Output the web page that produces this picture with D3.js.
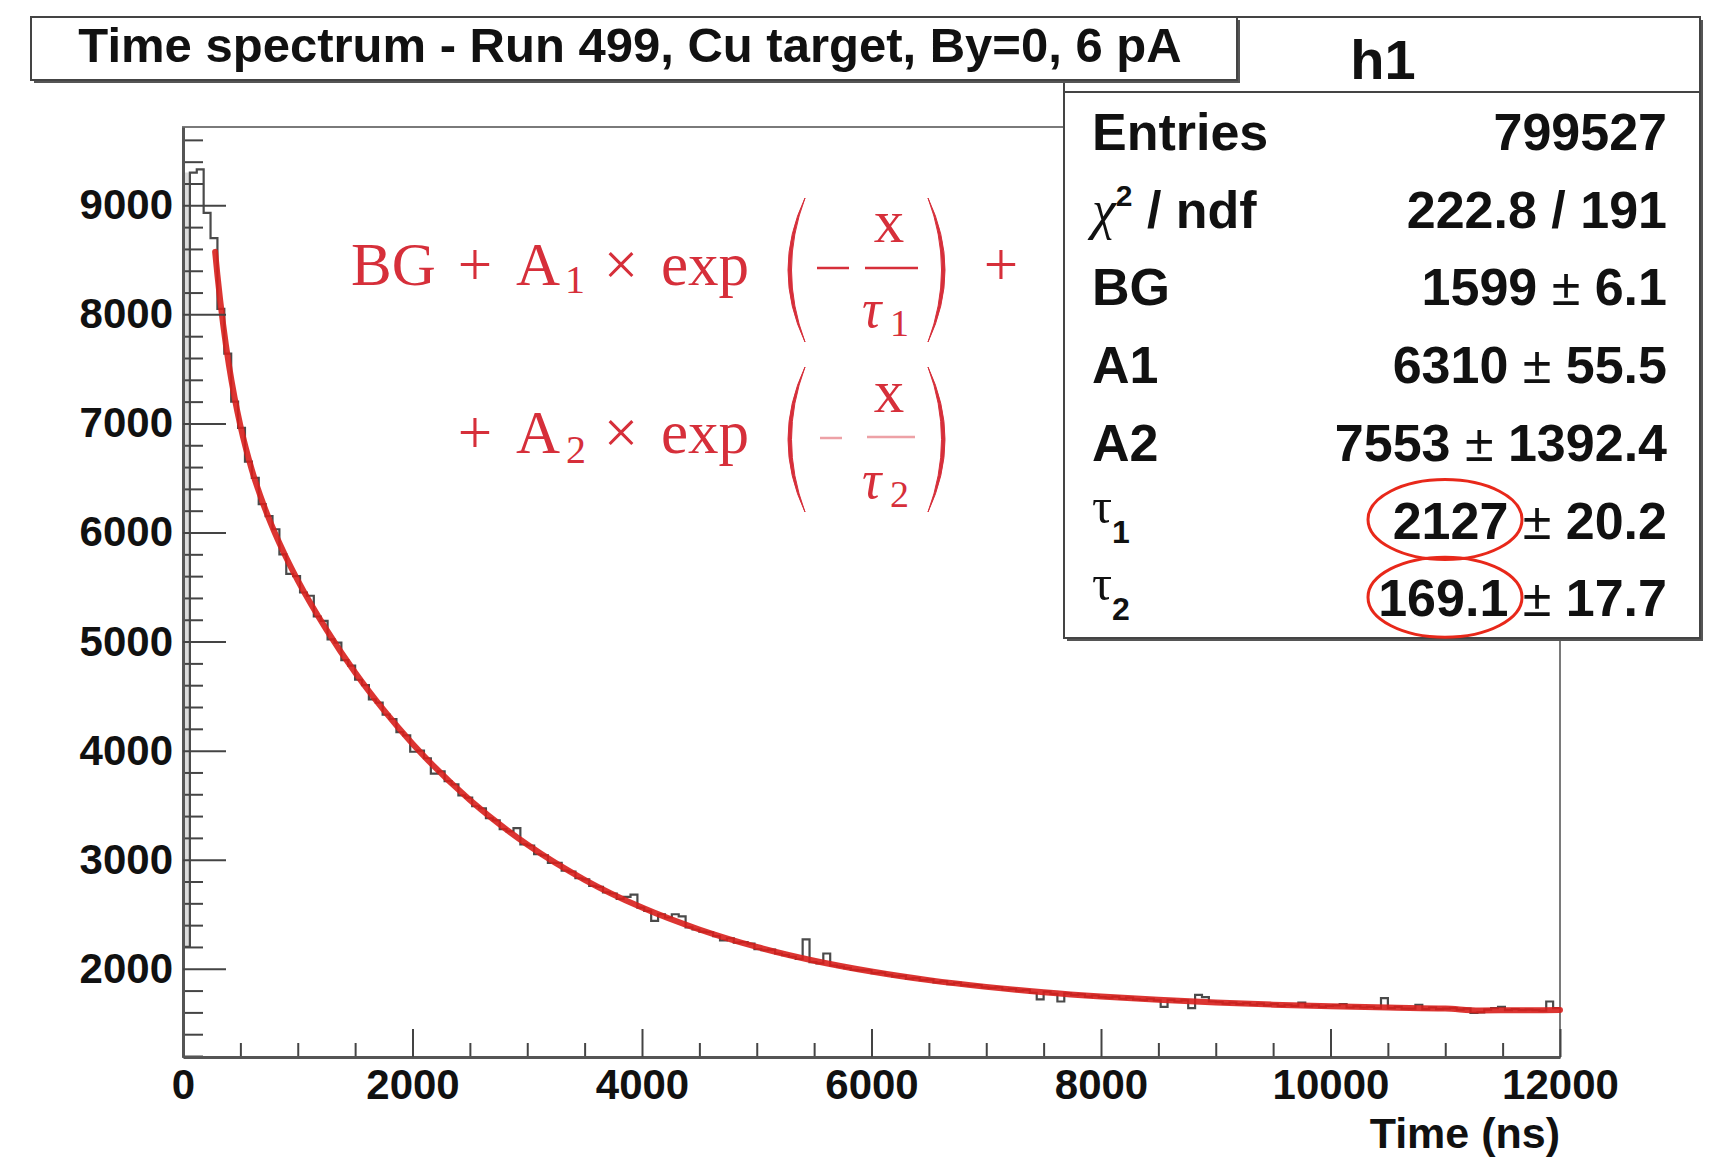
<!DOCTYPE html>
<html>
<head>
<meta charset="utf-8">
<script src="https://cdn.jsdelivr.net/npm/d3@7"></script>
<style>
html, body { margin: 0; padding: 0; background: #fff; }
svg { display: block; }
text { font-family: "Liberation Sans", Arial, Helvetica, sans-serif; }
</style>
</head>
<body>
<div id="chart"></div>
<script>
// ---- values ----
var binWidth = 60; // ns per bin, 200 bins from 0 to 12000
var counts = [
  2200, 9300, 9330, 8930, 8700, 8050, 7640, 7200, 6960, 6650,
  6500, 6260, 6150, 6030, 5800, 5620, 5600, 5450, 5420, 5230,
  5190, 5020, 4990, 4830, 4780, 4650, 4600, 4470, 4440, 4330,
  4290, 4170, 4140, 3990, 4000, 3930, 3790, 3810, 3720, 3690,
  3590, 3570, 3490, 3470, 3380, 3360, 3280, 3260, 3290, 3140,
  3130, 3050, 3040, 2970, 2970, 2900, 2890, 2830, 2820, 2760,
  2750, 2700, 2690, 2640, 2660, 2680, 2560, 2530, 2440, 2500,
  2470, 2500, 2480, 2380, 2360, 2340, 2335, 2300, 2260, 2280,
  2240, 2245, 2230, 2180, 2170, 2175, 2140, 2125, 2110, 2090,
  2270, 2060, 2050, 2140, 2030, 2020, 2005, 1990, 1985, 1985,
  1960, 1965, 1945, 1930, 1935, 1910, 1915, 1895, 1900, 1875,
  1885, 1860, 1870, 1850, 1845, 1850, 1830, 1825, 1830, 1810,
  1815, 1800, 1805, 1780, 1720, 1790, 1770, 1700, 1775, 1760,
  1765, 1745, 1755, 1740, 1735, 1745, 1725, 1735, 1720, 1715,
  1725, 1710, 1650, 1715, 1700, 1710, 1640, 1760, 1740, 1700,
  1695, 1680, 1690, 1675, 1685, 1670, 1680, 1665, 1675, 1660,
  1670, 1660, 1690, 1655, 1665, 1650, 1660, 1665, 1675, 1645,
  1655, 1645, 1650, 1640, 1730, 1640, 1650, 1635, 1635, 1670,
  1630, 1645, 1630, 1635, 1640, 1625, 1635, 1595, 1600, 1625,
  1640, 1650, 1620, 1630, 1620, 1625, 1620, 1615, 1700, 1640
];

// red fit curve, sampled along the drawn line
var fitTimes  = [280, 300, 350, 400, 450, 500, 600, 700, 800, 900, 1000, 1250, 1500, 1750, 2000,
                 2500, 3000, 3500, 4000, 4500, 5000, 5500, 6000, 6500, 7000, 7500, 8000, 8500,
                 9000, 9500, 10000, 10500, 11000, 11300, 11600, 12000];
var fitValues = [8573, 8360, 7905, 7536, 7234, 6980, 6575, 6260, 5998, 5769, 5562, 5110, 4716, 4371, 4063,
                 3547, 3139, 2816, 2561, 2360, 2200, 2074, 1975, 1896, 1834, 1785, 1746, 1715,
                 1691, 1671, 1656, 1644, 1635, 1618, 1620, 1621];

var xMajor = [0, 2000, 4000, 6000, 8000, 10000, 12000];
var yMajor = [2000, 3000, 4000, 5000, 6000, 7000, 8000, 9000];
var xRange = [0, 12000];
var yRange = [1191, 9718];

var titleText = "Time spectrum - Run 499, Cu target, By=0, 6 pA";
var histName = "h1";
var xTitle = "Time (ns)";

var statLabels = ["Entries", "chi2", "BG", "A1", "A2", "tau1", "tau2"];
var statValues = ["799527", "222.8 / 191", "1599 ± 6.1", "6310 ± 55.5", "7553 ± 1392.4", "2127 ± 20.2", "169.1 ± 17.7"];
var circledRows = [5, 6];

// ---- layout ----
var W = 1715, H = 1169;
var margin = {top: 127, right: 155, bottom: 112, left: 183};
var red = "#d62f3a";
var sans = '"Liberation Sans", Arial, Helvetica, sans-serif';
var serif = '"Liberation Serif", "Times New Roman", Times, serif';

var svg = d3.select("#chart").append("svg")
    .attr("width", W)
    .attr("height", H);

var x = d3.scaleLinear().domain(xRange).range([margin.left, W - margin.right]);
var y = d3.scaleLinear().domain(yRange).range([H - margin.bottom, margin.top]);

// frame
svg.append("rect")
    .attr("x", x(xRange[0])).attr("y", y(yRange[1]))
    .attr("width", x(xRange[1]) - x(xRange[0]))
    .attr("height", y(yRange[0]) - y(yRange[1]))
    .attr("fill", "none").attr("stroke", "#7a7a7a").attr("stroke-width", 2);

// histogram points (step)
var histPts = counts.map(function(c, i) { return {t: i * binWidth, v: c}; });
histPts.push({t: counts.length * binWidth, v: counts[counts.length - 1]});

// prompt band at the very start (first two bins)
svg.append("path")
    .datum(histPts.slice(1, 3))
    .attr("fill", "#dcdcdc")
    .attr("d", d3.area()
        .x(function(d) { return x(d.t - binWidth); })
        .y0(y(counts[0]))
        .y1(function(d) { return y(d.v); })
        .curve(d3.curveStepAfter));

svg.append("path")
    .datum(histPts)
    .attr("fill", "none")
    .attr("stroke", "#4a4a4a")
    .attr("stroke-width", 2.2)
    .attr("d", d3.line()
        .x(function(d) { return x(d.t); })
        .y(function(d) { return y(d.v); })
        .curve(d3.curveStepAfter));

// fit curve
var fitPts = fitTimes.map(function(t, i) { return {t: t, v: fitValues[i]}; });
svg.append("path")
    .datum(fitPts)
    .attr("fill", "none")
    .attr("stroke", "#d81f1c")
    .attr("stroke-opacity", 0.9)
    .attr("stroke-width", 6)
    .attr("stroke-linecap", "round")
    .attr("d", d3.line()
        .x(function(d) { return x(d.t); })
        .y(function(d) { return y(d.v); })
        .curve(d3.curveMonotoneX));

// axes
function styleAxis(g) {
    g.select(".domain").attr("stroke", "#555").attr("stroke-width", 3);
    g.selectAll(".tick line").attr("stroke", "#444").attr("stroke-width", 2);
    g.selectAll(".tick text")
        .attr("fill", "#111")
        .style("font-family", sans)
        .style("font-weight", "bold")
        .style("font-size", "42px");
}

var xMinor = d3.range(xRange[0], xRange[1] + 1, 500).filter(function(v) { return v % 2000 !== 0; });
var yMinor = d3.range(1200, yRange[1], 200).filter(function(v) { return v % 1000 !== 0; });

svg.append("g")
    .attr("transform", "translate(0," + y(yRange[0]) + ")")
    .call(d3.axisBottom(x).tickValues(xMinor).tickSize(-14).tickSizeOuter(0).tickFormat(""))
    .call(function(g) { g.select(".domain").remove(); g.selectAll("line").attr("stroke", "#444").attr("stroke-width", 2); });

svg.append("g")
    .attr("transform", "translate(" + x(xRange[0]) + ",0)")
    .call(d3.axisLeft(y).tickValues(yMinor).tickSize(-20).tickSizeOuter(0).tickFormat(""))
    .call(function(g) { g.select(".domain").remove(); g.selectAll("line").attr("stroke", "#444").attr("stroke-width", 2); });

svg.append("g")
    .attr("transform", "translate(0," + y(yRange[0]) + ")")
    .call(d3.axisBottom(x).tickValues(xMajor).tickSize(-28).tickSizeOuter(0).tickPadding(12).tickFormat(d3.format("d")))
    .call(styleAxis);

svg.append("g")
    .attr("transform", "translate(" + x(xRange[0]) + ",0)")
    .call(d3.axisLeft(y).tickValues(yMajor).tickSize(-43).tickSizeOuter(0).tickPadding(10).tickFormat(d3.format("d")))
    .call(styleAxis);

svg.append("text")
    .attr("x", x(xRange[1])).attr("y", 1148)
    .attr("text-anchor", "end")
    .style("font-weight", "bold").style("font-size", "43px")
    .attr("fill", "#111")
    .text(xTitle);

// ---- formula (TLatex) ----
var fg = svg.append("g").attr("fill", red);
function ftext(px, py, s, size, opts) {
    var t = fg.append("text").attr("x", px).attr("y", py)
        .style("font-family", serif).style("font-size", size + "px").text(s);
    if (opts && opts.anchor) t.attr("text-anchor", opts.anchor);
    if (opts && opts.italic) t.style("font-style", "italic");
    if (opts && opts.op) t.attr("fill-opacity", opts.op);
    return t;
}
function paren(px, y0, y1, left) {
    var mid = (y0 + y1) / 2, d = left ? -1 : 1;
    fg.append("path")
        .attr("d", "M" + px + "," + y0 + " Q" + (px + d * 34) + "," + mid + " " + px + "," + y1 +
                   " Q" + (px + d * 27) + "," + mid + " " + px + "," + y0 + "Z")
        .attr("stroke", red).attr("stroke-width", 1);
}
function hline(x0, x1, py, op) {
    fg.append("line").attr("x1", x0).attr("x2", x1).attr("y1", py).attr("y2", py)
        .attr("stroke", red).attr("stroke-width", 2.5).attr("stroke-opacity", op || 1);
}

// row 1
ftext(351, 285, "BG", 61);
ftext(475, 285, "+", 61, {anchor: "middle"});
ftext(516, 285, "A", 61);
ftext(565, 293, "1", 40);
ftext(621, 285, "×", 61, {anchor: "middle"});
ftext(661, 285, "exp", 61);
paren(805, 198, 342, true);
hline(817, 849, 268);
ftext(889, 242, "x", 61, {anchor: "middle"});
hline(865, 918, 268);
ftext(862, 327, "τ", 54, {italic: true});
ftext(890, 336, "1", 38);
paren(928, 198, 342, false);
ftext(1001, 285, "+", 61, {anchor: "middle"});

// row 2
ftext(475, 453, "+", 61, {anchor: "middle"});
ftext(516, 453, "A", 61);
ftext(566, 463, "2", 40);
ftext(621, 453, "×", 61, {anchor: "middle"});
ftext(661, 453, "exp", 61);
paren(805, 367, 512, true);
hline(820, 842, 438, 0.45);
ftext(889, 412, "x", 61, {anchor: "middle"});
hline(867, 915, 437, 0.45);
ftext(862, 498, "τ", 54, {italic: true});
ftext(890, 507, "2", 38);
paren(928, 367, 512, false);

// ---- stats box ----
function shadowBox(bx, by, bw, bh) {
    svg.append("rect").attr("x", bx + 3).attr("y", by + 3).attr("width", bw).attr("height", bh).attr("fill", "#555");
    svg.append("rect").attr("x", bx).attr("y", by).attr("width", bw).attr("height", bh)
        .attr("fill", "#fff").attr("stroke", "#444").attr("stroke-width", 2);
}

shadowBox(1064, 17, 636, 621);
svg.append("line").attr("x1", 1064).attr("x2", 1700).attr("y1", 92).attr("y2", 92)
    .attr("stroke", "#444").attr("stroke-width", 2);
svg.append("text")
    .attr("x", 1383).attr("y", 79).attr("text-anchor", "middle")
    .style("font-weight", "bold").style("font-size", "56px").attr("fill", "#111")
    .text(histName);

var rowY = statLabels.map(function(d, i) { return 150 + i * 77.7; });
var labelX = 1092, valueX = 1667;

statLabels.forEach(function(lab, i) {
    var t = svg.append("text").attr("x", labelX).attr("y", rowY[i])
        .attr("fill", "#111").style("font-size", "52px");
    if (lab === "chi2") {
        t.append("tspan").style("font-family", serif).style("font-style", "italic").style("font-size", "54px").text("χ");
        t.append("tspan").attr("dy", -22).style("font-size", "30px").style("font-weight", "bold").text("2");
        t.append("tspan").attr("dy", 22).style("font-weight", "bold").text(" / ndf");
    } else if (lab.indexOf("tau") === 0) {
        t.append("tspan").attr("dy", -16).style("font-family", serif).style("font-size", "50px").text("τ");
        t.append("tspan").attr("dy", 20).style("font-size", "32px").style("font-weight", "bold").text(lab.slice(3));
    } else {
        t.style("font-weight", "bold").text(lab);
    }
});

statValues.forEach(function(val, i) {
    var t = svg.append("text").attr("x", valueX).attr("y", rowY[i])
        .attr("text-anchor", "end").attr("fill", "#111")
        .style("font-size", "52px").style("font-weight", "bold");
    var parts = val.split(" ± ");
    t.append("tspan").text(parts[0]);
    if (parts.length > 1) {
        t.append("tspan").style("font-weight", "normal").text(" ± ");
        t.append("tspan").text(parts[1]);
    }
});

// title box (drawn over the stats box corner)
shadowBox(31, 17, 1206, 63);
svg.append("text")
    .attr("x", 630).attr("y", 62).attr("text-anchor", "middle")
    .style("font-weight", "bold").style("font-size", "49px").attr("fill", "#111")
    .text(titleText);

// red hand-drawn circles around tau values
circledRows.forEach(function(r) {
    svg.append("ellipse")
        .attr("cx", 1445).attr("cy", rowY[r] - 19)
        .attr("rx", 77).attr("ry", 40)
        .attr("fill", "none").attr("stroke", "#e8281a").attr("stroke-width", 3);
});
</script>
</body>
</html>
